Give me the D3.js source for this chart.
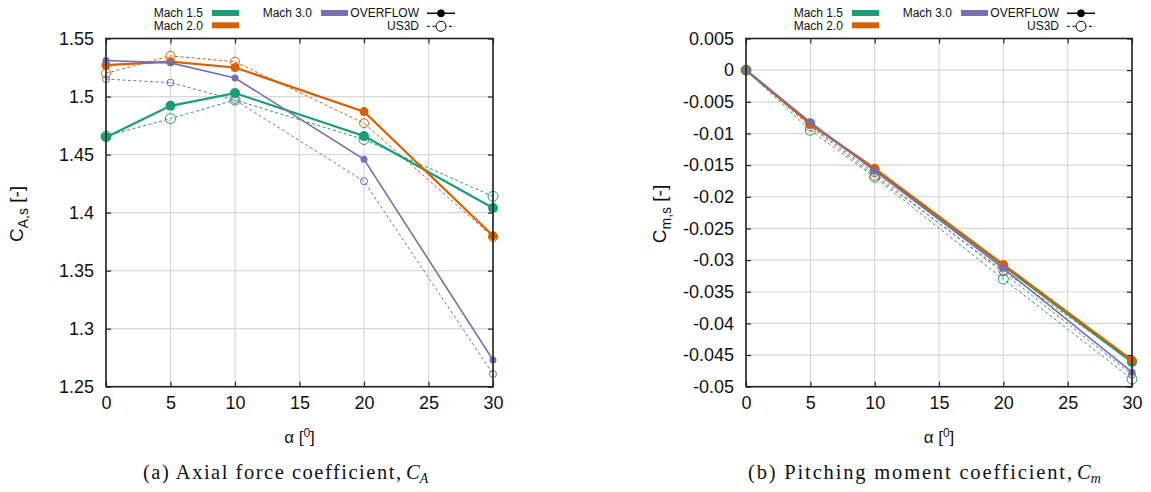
<!DOCTYPE html>
<html lang="en">
<head>
<meta charset="UTF-8">
<title>Axial force and pitching moment coefficients</title>
<script src="https://d3js.org/d3.v7.min.js"></script>
<style>
  body { margin: 0; background: #fff; }
  svg text { font-family: "Liberation Sans", Arial, sans-serif; fill: #111; }
  .caption { font-family: "Liberation Serif", "DejaVu Serif", serif; }
</style>
</head>
<body>
<div id="chart"></div>
<script>
// angle of attack
const alpha = [0, 5, 10, 20, 30];
const machLabels = ["Mach 1.5", "Mach 2.0", "Mach 3.0"];
const codeLabels = ["OVERFLOW", "US3D"];

// axial force coefficient C_A,s
const caOverflowM15 = [1.465, 1.492, 1.503, 1.466, 1.404];
const caOverflowM20 = [1.527, 1.530, 1.525, 1.487, 1.380];
const caOverflowM30 = [1.531, 1.529, 1.516, 1.446, 1.273];
const caUs3dM15 = [1.466, 1.481, 1.497, 1.463, 1.414];
const caUs3dM20 = [1.520, 1.535, 1.530, 1.477, 1.379];
const caUs3dM30 = [1.515, 1.512, 1.497, 1.427, 1.261];

// pitching moment coefficient C_m,s
const cmOverflowM15 = [0, -0.0084, -0.0157, -0.0309, -0.0461];
const cmOverflowM20 = [0, -0.0085, -0.0155, -0.0307, -0.0458];
const cmOverflowM30 = [0, -0.0082, -0.0159, -0.0313, -0.0477];
const cmUs3dM15 = [0, -0.0095, -0.0169, -0.0330, -0.0488];
const cmUs3dM20 = [0, -0.0089, -0.0167, -0.0317, -0.0460];
const cmUs3dM30 = [0, -0.0087, -0.0163, -0.0320, -0.0481];

// tick values
const alphaTicks = [0, 5, 10, 15, 20, 25, 30];
const caTicks = [1.25, 1.3, 1.35, 1.4, 1.45, 1.5, 1.55];
const cmTicks = [0.005, 0, -0.005, -0.01, -0.015, -0.02, -0.025, -0.03, -0.035, -0.04, -0.045, -0.05];

const colors = ["#1b9e77", "#d95f02", "#7570b3"];
const solidWidth = [2.2, 2.2, 1.6];
const markerR = [5, 4.5, 3.5];

const width = 1151, height = 492;
const svg = d3.select("#chart").append("svg")
    .attr("width", width)
    .attr("height", height);

function drawPanel(opt) {
    const x = d3.scaleLinear().domain([0, 30]).range([opt.left, opt.right]);
    const y = d3.scaleLinear().domain(opt.yDomain).range([386.7, 38.5]);
    const g = svg.append("g");

    // grid
    g.selectAll(".gx").data(alphaTicks).enter().append("line")
        .attr("x1", d => x(d)).attr("x2", d => x(d))
        .attr("y1", y.range()[1]).attr("y2", y.range()[0])
        .attr("stroke", "#d8d8d8").attr("stroke-width", 1.2);
    g.selectAll(".gy").data(opt.yTicks).enter().append("line")
        .attr("y1", d => y(d)).attr("y2", d => y(d))
        .attr("x1", opt.left).attr("x2", opt.right)
        .attr("stroke", "#d8d8d8").attr("stroke-width", 1.2);

    // axes with inward ticks on all four sides
    const fmt = d => opt.fmt(d).replace("\u2212", "-");
    const ax = [
        d3.axisBottom(x).tickValues(alphaTicks).tickSize(-5).tickPadding(10).tickFormat(d3.format("d")),
        d3.axisTop(x).tickValues(alphaTicks).tickSize(-5).tickFormat(""),
        d3.axisLeft(y).tickValues(opt.yTicks).tickSize(-5).tickPadding(12).tickFormat(fmt),
        d3.axisRight(y).tickValues(opt.yTicks).tickSize(-5).tickFormat("")
    ];
    const tr = [
        `translate(0,${y.range()[0]})`, `translate(0,${y.range()[1]})`,
        `translate(${opt.left},0)`, `translate(${opt.right},0)`
    ];
    ax.forEach((a, i) => {
        const ga = g.append("g").attr("transform", tr[i]).call(a);
        ga.select(".domain").remove();
        ga.selectAll("line").attr("stroke", "#222").attr("stroke-width", 1.2);
        ga.selectAll("text").style("font-size", "18px")
            .style("font-family", "Liberation Sans, Arial, sans-serif").attr("fill", "#111");
    });

    const line = d3.line().x((d, i) => x(alpha[i])).y(d => y(d));

    // US3D dashed, open circles
    opt.us3d.forEach((s, k) => {
        g.append("path").datum(s).attr("d", line)
            .attr("fill", "none").attr("stroke", colors[k])
            .attr("stroke-width", 1).attr("stroke-dasharray", "3,2.5");
    });
    opt.us3d.forEach((s, k) => {
        g.selectAll(null).data(s).enter().append("circle")
            .attr("cx", (d, i) => x(alpha[i])).attr("cy", d => y(d))
            .attr("r", markerR[k]).attr("fill", "none")
            .attr("stroke", colors[k]).attr("stroke-width", 1);
    });
    // OVERFLOW solid, filled circles
    opt.overflow.forEach((s, k) => {
        g.append("path").datum(s).attr("d", line)
            .attr("fill", "none").attr("stroke", colors[k])
            .attr("stroke-width", solidWidth[k]);
        g.selectAll(null).data(s).enter().append("circle")
            .attr("cx", (d, i) => x(alpha[i])).attr("cy", d => y(d))
            .attr("r", markerR[k]).attr("fill", colors[k]);
    });

    // frame
    g.append("rect")
        .attr("x", opt.left).attr("y", y.range()[1])
        .attr("width", opt.right - opt.left).attr("height", y.range()[0] - y.range()[1])
        .attr("fill", "none").attr("stroke", "#222").attr("stroke-width", 1.6);

    // legend
    const L = opt.left;
    const lg = svg.append("g").style("font-size", "12px");
    const machPos = [[97, 17, 13], [97, 30, 25.3], [206, 17, 13]];
    machLabels.forEach((m, k) => {
        const p = machPos[k];
        lg.append("text").attr("x", L + p[0]).attr("y", p[1])
            .attr("text-anchor", "end").text(m);
        lg.append("rect").attr("x", L + p[0] + 9).attr("y", p[2] - 3)
            .attr("width", 27).attr("height", 6).attr("fill", colors[k]);
    });
    codeLabels.forEach((c, k) => {
        const ty = k === 0 ? 17 : 30, ly = k === 0 ? 13.3 : 26.3;
        lg.append("text").attr("x", L + 313).attr("y", ty)
            .attr("text-anchor", "end").text(c);
        lg.append("line").attr("x1", L + 321).attr("x2", L + 349)
            .attr("y1", ly).attr("y2", ly)
            .attr("stroke", "#000").attr("stroke-width", k === 0 ? 1.5 : 1)
            .attr("stroke-dasharray", k === 0 ? null : "3,2.5");
        lg.append("circle").attr("cx", L + 335).attr("cy", ly)
            .attr("r", k === 0 ? 3.5 : 5)
            .attr("fill", k === 0 ? "#000" : "#fff")
            .attr("stroke", "#000").attr("stroke-width", 1);
    });

    // axis titles
    const cx = (opt.left + opt.right) / 2;
    const xt = svg.append("text").attr("x", cx).attr("y", 443)
        .attr("text-anchor", "middle").style("font-size", "17px");
    xt.append("tspan").text("\u03b1 [");
    xt.append("tspan").attr("dy", -6).style("font-size", "12px").text("0");
    xt.append("tspan").attr("dy", 6).text("]");

    const yt = svg.append("text")
        .attr("transform", `translate(${opt.yLabelX},214) rotate(-90)`)
        .attr("text-anchor", "middle").style("font-size", "19px");
    yt.append("tspan").text("C");
    yt.append("tspan").attr("dy", 5).style("font-size", "14px").text(opt.ySub);
    yt.append("tspan").attr("dy", -5).text(" [-]");

    // caption, stretched to the width of the original LaTeX caption
    svg.append("text").attr("class", "caption")
        .attr("x", opt.capX).attr("y", 479)
        .attr("textLength", opt.capLen).attr("lengthAdjust", "spacing")
        .style("font-size", "20.5px").text(opt.caption);
    const ct = svg.append("text").attr("class", "caption")
        .attr("x", opt.capX + opt.capLen + 5).attr("y", 479)
        .style("font-size", "20.5px").style("font-style", "italic");
    ct.append("tspan").text("C");
    ct.append("tspan").attr("dy", 4).style("font-size", "14px").text(opt.capSub);
}

drawPanel({
    left: 106, right: 493,
    yDomain: [1.25, 1.55], yTicks: caTicks,
    fmt: d3.format("~g"),
    overflow: [caOverflowM15, caOverflowM20, caOverflowM30],
    us3d: [caUs3dM15, caUs3dM20, caUs3dM30],
    yLabelX: 23, ySub: "A,s",
    caption: "(a) Axial force coefficient,", capSub: "A", capX: 143, capLen: 258
});

drawPanel({
    left: 746, right: 1132,
    yDomain: [-0.05, 0.005], yTicks: cmTicks,
    fmt: d3.format("~g"),
    overflow: [cmOverflowM15, cmOverflowM20, cmOverflowM30],
    us3d: [cmUs3dM15, cmUs3dM20, cmUs3dM30],
    yLabelX: 666, ySub: "m,s",
    caption: "(b) Pitching moment coefficient,", capSub: "m", capX: 748, capLen: 324
});
</script>
</body>
</html>
